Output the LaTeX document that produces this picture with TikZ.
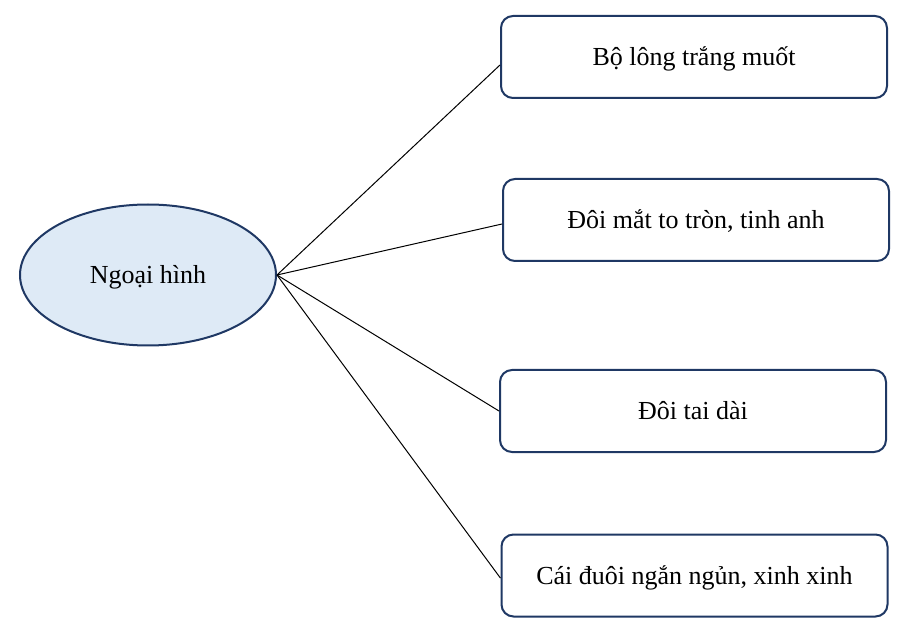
\documentclass[tikz,border=0pt]{standalone}
\usepackage{fontspec}
\setmainfont{Liberation Serif}
\usetikzlibrary{shapes.geometric}
\definecolor{navy}{HTML}{1F3864}
\definecolor{lightfill}{HTML}{DEEAF6}
\tikzset{
  txt/.style={font=\fontsize{19.5pt}{23pt}\selectfont, text height=16.5pt, text depth=3pt},
  box/.style={txt, draw=navy, line width=1.5pt, rounded corners=9pt, fill=white,
    minimum width=289.5pt, minimum height=61.5pt, inner sep=0pt},
  hub/.style={txt, ellipse, draw=navy, line width=1.5pt, fill=lightfill,
    minimum width=192pt, minimum height=105.75pt, inner sep=0pt},
  link/.style={draw=black, line width=0.75pt}
}
\begin{document}
\begin{tikzpicture}[x=0.75pt, y=-0.75pt]
\useasboundingbox (0,0) rectangle (908,624);
\node[hub] (h) at (148,275) {Ngoại hình};
\node[box] (b1) at (694,57) {Bộ lông trắng muốt};
\node[box] (b2) at (696,220) {Đôi mắt to tròn, tinh anh};
\node[box] (b3) at (693,411) {Đôi tai dài};
\node[box] (b4) at (694.5,575.5) {Cái đuôi ngắn ngủn, xinh xinh};
\draw[link] (h.east) -- ([yshift=-6pt]b1.west);
\draw[link] (h.east) -- ([yshift=-3pt]b2.west);
\draw[link] (h.east) -- (b3.west);
\draw[link] (h.east) -- ([yshift=-2pt]b4.west);
\end{tikzpicture}
\end{document}
